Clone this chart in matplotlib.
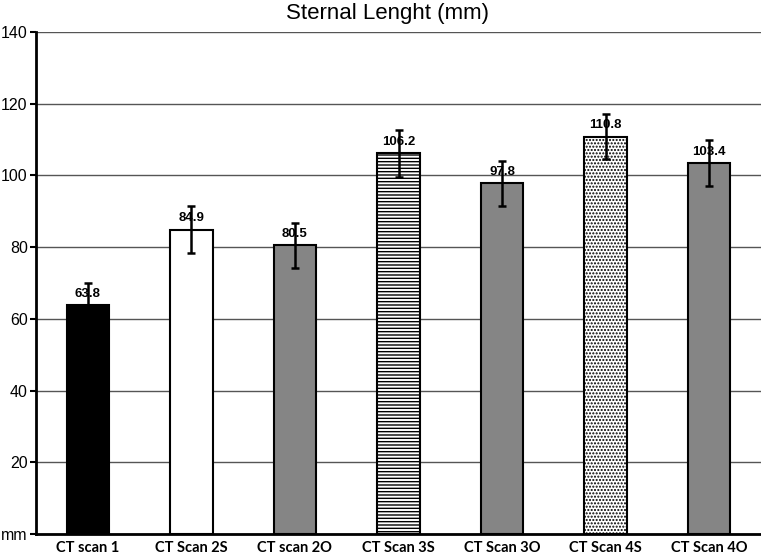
import matplotlib
matplotlib.use("Agg")
import matplotlib.pyplot as plt
import numpy as np

categories = ["CT scan 1", "CT Scan 2S", "CT scan 2O", "CT Scan 3S", "CT Scan 3O", "CT Scan 4S", "CT Scan 4O"]
values = [63.8, 84.9, 80.5, 106.2, 97.8, 110.8, 103.4]
errors = [6.1, 6.5, 6.3, 6.5, 6.3, 6.2, 6.4]
labels = ["63.8", "84.9", "80.5", "106.2", "97.8", "110.8", "103.4"]
yticks = [0, 20, 40, 60, 80, 100, 120, 140]
yticklabels = ["mm", "20", "40", "60", "80", "100", "120", "140"]

colors = ["#000000", "#ffffff", "#858585", "#ffffff", "#858585", "#ffffff", "#858585"]
hatches = [None, None, None, "-----", None, ".....", None]

plt.rcParams['hatch.linewidth'] = 1.0
fig = plt.figure(figsize=(7.61, 5.56), dpi=100)
ax = fig.add_axes([36/761, 1-534/556, 1-36/761, (534-32)/556])

x = np.arange(len(categories))
for i in range(len(categories)):
    ax.bar(x[i], values[i], width=0.41, color=colors[i], edgecolor="black",
           linewidth=1.5, hatch=hatches[i], zorder=3)
    ax.text(x[i], values[i] + 1.5, labels[i], ha="center", va="bottom",
            fontsize=9.5, fontweight="bold", family="Liberation Sans", zorder=4)
ax.errorbar(x, values, yerr=errors, fmt="none", ecolor="black", elinewidth=1.8,
            capsize=3, capthick=1.8, zorder=5)

ax.set_xlim(-0.5, 6.5)
ax.set_ylim(0, 140)
ax.set_yticks(yticks)
ax.set_yticklabels(yticklabels, fontsize=11.5, family="Liberation Sans")
ax.set_xticks(x)
ax.set_xticklabels(categories, fontsize=10.5, family="Lato", fontweight="bold")
ax.tick_params(axis="x", length=0, pad=5)
ax.tick_params(axis="y", length=4, width=1.5, pad=2)
ax.yaxis.grid(True, color="#555555", linewidth=1.0, zorder=0)
ax.set_axisbelow(True)
for s in ["top", "right"]:
    ax.spines[s].set_visible(False)
ax.spines["left"].set_linewidth(2)
ax.spines["bottom"].set_linewidth(2)

fig.text(388/761, 1-18.5/556, "Sternal Lenght (mm)", ha="center", va="baseline",
         fontsize=16, family="Liberation Sans")

fig.savefig("out.png", dpi=100)
